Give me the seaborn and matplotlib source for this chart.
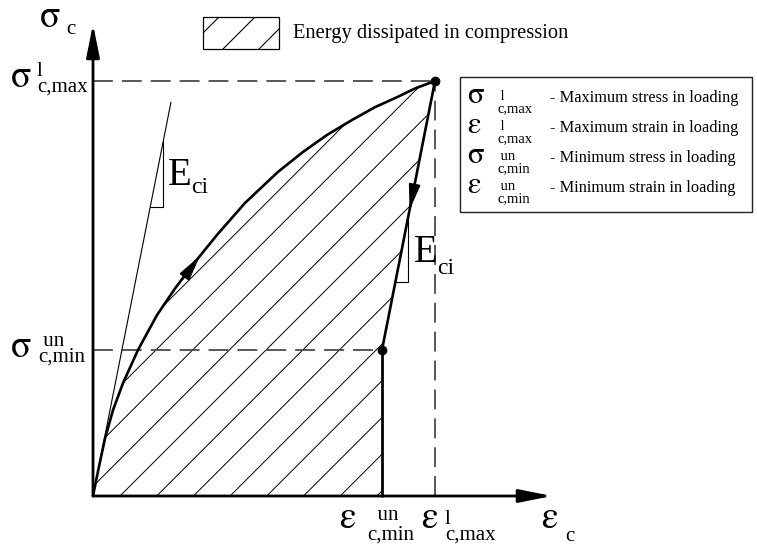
import numpy as np
import matplotlib
matplotlib.use("Agg")
import matplotlib.pyplot as plt
import matplotlib.transforms as mtransforms
from matplotlib.patches import Polygon, Rectangle
import seaborn as sns

# ---------------- data (normalised: strain/eps_max, stress/sigma_max) ----------------
eps_load = [0.0, 0.0175, 0.035, 0.0585, 0.0877, 0.1316, 0.1871, 0.2398, 0.2924, 0.3655,
            0.4444, 0.5409, 0.6140, 0.6842, 0.7573, 0.8246, 0.8889, 0.9415, 1.0]
sig_load = [0.0, 0.071, 0.138, 0.207, 0.272, 0.352, 0.436, 0.500, 0.558, 0.632,
            0.706, 0.781, 0.829, 0.870, 0.906, 0.937, 0.961, 0.982, 1.0]
eps_max, sig_max = 1.0, 1.0
eps_min, sig_min = 0.845, 0.352
tangent_eps = [0.0, 0.228]
tangent_sig = [0.0, 0.949]

legend_symbols = [("σ", "l", "c,max"), ("ε", "l", "c,max"), ("σ", "un", "c,min"), ("ε", "un", "c,min")]
legend_desc = ["- Maximum stress in loading", "- Maximum strain in loading",
               "- Minimum stress in loading", "- Minimum strain in loading"]
hatch_label = "Energy dissipated in compression"

# ---------------- figure ----------------
W, H = 757, 546
sns.set_theme(style="white")
plt.rcParams["font.family"] = ["Liberation Serif", "DejaVu Serif"]
GREEK = ["STIXGeneral", "DejaVu Serif"]

fig = plt.figure(figsize=(W / 100, H / 100), dpi=100)
ax = fig.add_axes([0, 0, 1, 1])
ax.set_axis_off()

X0, Y0 = 93, 496      # origin location (px)
SX, SY = 342, 415     # px per unit strain / stress
ax.set_xlim(-X0 / SX, (W - X0) / SX)
ax.set_ylim(-(H - Y0) / SY, Y0 / SY)

# pixel-layout transform (x right, y down from top-left) for annotations
PX = mtransforms.Affine2D().scale(1 / 100, -1 / 100).translate(0, H / 100) + fig.dpi_scale_trans

# ---------------- hatched energy area ----------------
poly_x = eps_load + [eps_min, eps_min]
poly_y = sig_load + [sig_min, 0.0]
area = Polygon(np.column_stack([poly_x, poly_y]), closed=True, facecolor="none", edgecolor="none")
ax.add_patch(area)
k = SX / SY
step = 36.7 / SX
start = 27 / SX
for n in range(-12, 14):
    e0 = start + n * step
    xs = np.array([e0, e0 + 2.0])
    ln, = ax.plot(xs, k * (xs - e0), color="black", lw=0.7)
    ln.set_clip_path(area)

# ---------------- dashed reference lines ----------------
dash_kw = dict(color="#4a4a4a", lw=1.3, dashes=(11, 5))
ax.plot([0, eps_max], [sig_max, sig_max], **dash_kw)
ax.plot([eps_max, eps_max], [0, sig_max], **dash_kw)
ax.plot([0, eps_min], [sig_min, sig_min], **dash_kw)

# ---------------- curves ----------------
line_kw = dict(sort=False, estimator=None, ax=ax, color="black")
sns.lineplot(x=tangent_eps, y=tangent_sig, lw=0.8, **line_kw)
sns.lineplot(x=eps_load, y=sig_load, lw=1.9, **line_kw)
sns.lineplot(x=[eps_max, eps_min], y=[sig_max, sig_min], lw=1.9, **line_kw)
sns.lineplot(x=[eps_min, eps_min], y=[sig_min, 0.0], lw=2.0, **line_kw)
sns.scatterplot(x=[eps_max, eps_min], y=[sig_max, sig_min], ax=ax, color="black", s=42,
                edgecolor="black", zorder=5)

# slope triangles
slope0 = tangent_sig[1] / tangent_eps[1]
tv_e, tv_s = 0.2056, 0.696
ax.plot([tv_s / slope0, tv_e, tv_e], [tv_s, tv_s, slope0 * tv_e], color="black", lw=0.8)
un_slope = (sig_max - sig_min) / (eps_max - eps_min)
uv_e, uv_s = 0.921, 0.516
ax.plot([eps_min + (uv_s - sig_min) / un_slope, uv_e, uv_e],
        [uv_s, uv_s, sig_min + un_slope * (uv_e - eps_min)], color="black", lw=0.8)

# direction arrows on the curves
arr = dict(arrowstyle="-|>,head_length=0.8,head_width=0.18", mutation_scale=20,
           color="black", lw=1.2, shrinkA=0, shrinkB=0)
ax.annotate("", xy=(0.313, 0.579), xytext=(0.262, 0.522), arrowprops=arr)
ax.annotate("", xy=(0.9256, 0.689), xytext=(0.9429, 0.761), arrowprops=arr)

# axes arrows
ax_arr = dict(arrowstyle="-|>,head_length=1.0,head_width=0.2", mutation_scale=20,
              color="black", lw=2.0, shrinkA=0, shrinkB=0)
ax.annotate("", xy=(0, (Y0 - 24) / SY), xytext=(0, 0), arrowprops=ax_arr)
ax.annotate("", xy=((552 - X0) / SX, 0), xytext=(0, 0), arrowprops=ax_arr)

# ---------------- labels ----------------
def t(x, y, s, size, **kw):
    ax.text(x, y, s, transform=PX, fontsize=size, ha="left", va="baseline", color="black", **kw)

def g(x, y, s, size):
    t(x, y, s, size, family=GREEK)

def scripts(x, y_sub, sup, sub, size, ls):
    # superscript stacked over subscript; y_sub = baseline of the subscript line
    t(x, y_sub, sup + "\n" + sub, size, linespacing=ls, multialignment="left")

BIG, SCR = 27, 15
# axis titles
g(40, 27, "σ", BIG); t(66, 34, "c", SCR)
g(541, 528, "ε", BIG); t(565, 541, "c", SCR)
# sigma max / min
g(11, 87, "σ", BIG); scripts(37, 92, "l", "c,max", SCR, 0.78)
g(11, 357, "σ", BIG); scripts(38, 362, " un", "c,min", SCR, 0.82)
# eps min / max
g(339, 528, "ε", BIG); scripts(367, 540, "  un", "c,min", SCR, 1.08)
g(421, 528, "ε", BIG); scripts(445, 540, "l", "c,max", SCR, 0.82)
# E_ci
t(168, 185, "E", 28); t(191, 193, "ci", 17)
t(414, 262, "E", 28); t(437, 274, "ci", 17)

# hatch legend
hbox = Rectangle((203, 17), 76, 32, transform=PX, facecolor="white", edgecolor="black", lw=0.9)
ax.add_patch(hbox)
for x0 in (187, 223, 259, 295):
    ln, = ax.plot([x0, x0 + 40], [49, 9], transform=PX, color="black", lw=0.8)
    ln.set_clip_path(hbox)
t(293, 38, hatch_label, 14.8)

# symbol legend box
ax.add_patch(Rectangle((460, 77), 292, 135, transform=PX, facecolor="white",
                       edgecolor="#222222", lw=1.0))
row_base = [102, 132, 162, 192]
for (gl, sup, sub), desc, yb in zip(legend_symbols, legend_desc, row_base):
    g(467, yb + 1, gl, 22)
    scripts(497, yb + 10, " " + sup, sub, 10.5, 0.92)
    t(550, yb, desc, 11.8)

fig.savefig("out.png", dpi=100, facecolor="white")
